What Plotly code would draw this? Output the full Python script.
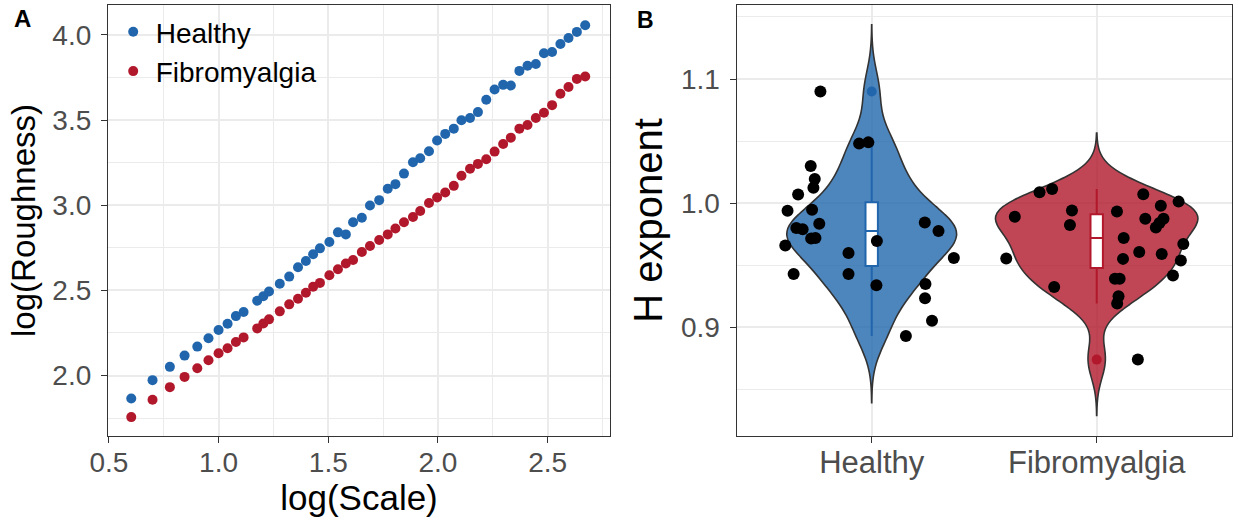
import plotly.graph_objects as go

# ---------------- Panel A data ----------------
log_scale = [0.602, 0.699, 0.778, 0.845, 0.903, 0.954, 1.000, 1.041, 1.079, 1.114,
             1.176, 1.204, 1.230, 1.279, 1.322, 1.362, 1.398, 1.431, 1.462, 1.505,
             1.544, 1.580, 1.613, 1.653, 1.690, 1.732, 1.771, 1.806, 1.845, 1.886,
             1.919, 1.959, 1.996, 2.033, 2.072, 2.107, 2.146, 2.182, 2.220, 2.258,
             2.297, 2.332, 2.371, 2.408, 2.446, 2.483, 2.520, 2.558, 2.595, 2.633, 2.671]
healthy_rough = [1.865, 1.973, 2.051, 2.117, 2.170, 2.219, 2.267, 2.304, 2.349, 2.373,
                 2.439, 2.466, 2.494, 2.539, 2.581, 2.636, 2.673, 2.712, 2.747, 2.784,
                 2.841, 2.829, 2.900, 2.927, 2.999, 3.030, 3.097, 3.124, 3.186, 3.253,
                 3.276, 3.317, 3.380, 3.419, 3.450, 3.499, 3.512, 3.547, 3.620, 3.680,
                 3.707, 3.703, 3.789, 3.819, 3.830, 3.893, 3.900, 3.947, 3.982, 4.018, 4.057]
fibro_rough = [1.756, 1.858, 1.932, 1.992, 2.043, 2.090, 2.131, 2.160, 2.197, 2.224,
               2.277, 2.306, 2.330, 2.377, 2.418, 2.451, 2.486, 2.521, 2.544, 2.589,
               2.624, 2.658, 2.679, 2.726, 2.761, 2.796, 2.829, 2.864, 2.900, 2.931,
               2.966, 3.013, 3.046, 3.075, 3.114, 3.173, 3.214, 3.243, 3.270, 3.315,
               3.360, 3.397, 3.450, 3.471, 3.512, 3.543, 3.588, 3.655, 3.694, 3.742, 3.756]

# ---------------- Panel B data ----------------
groups = ["Healthy", "Fibromyalgia"]
group_pos = [1, 2]
healthy_H = [1.090, 1.048, 1.049, 1.030, 1.0195, 1.0125, 1.007, 0.994, 0.9947, 0.980,
             0.979, 0.9835, 0.9717, 0.972, 0.966, 0.960, 0.943, 0.943, 0.9696, 0.934,
             0.9845, 0.9776, 0.956, 0.935, 0.9235, 0.9053, 0.8931]
healthy_jitter = [-0.228, -0.056, -0.015, -0.271, -0.253, -0.259, -0.327, -0.374, -0.265, -0.335,
                  -0.307, -0.233, -0.269, -0.250, -0.384, -0.103, -0.347, -0.103, 0.023, 0.021,
                  0.236, 0.297, 0.365, 0.239, 0.237, 0.268, 0.152]
fibro_H = [1.0088, 1.0115, 0.9891, 0.9555, 0.9941, 0.9824, 0.9325, 0.9933, 0.972, 0.9552,
           0.9392, 0.9392, 0.9251, 0.9192, 0.9608, 1.0072, 0.9979, 0.9875, 0.9875, 0.984,
           0.9805, 0.9592, 1.0013, 0.9672, 0.9539, 0.9419, 0.8741]
fibro_jitter = [-0.254, -0.198, -0.364, -0.402, -0.110, -0.119, -0.189, 0.090, 0.120, 0.117,
                0.081, 0.102, 0.097, 0.091, 0.189, 0.207, 0.285, 0.216, 0.297, 0.279,
                0.263, 0.289, 0.364, 0.385, 0.374, 0.339, 0.183]
bandwidths = [0.0179, 0.0150]

BLUE = "#2166AC"
RED = "#B2182B"
BLUE_FILL = "rgba(33,102,172,0.8)"
RED_FILL = "rgba(178,24,43,0.8)"
FONT = "Liberation Sans, Arial, Helvetica, sans-serif"
TICK_COLOR = "#4D4D4D"
BORDER = "#333333"
GRID = "#EBEBEB"

W, H = 1239, 523
fig = go.Figure()

# Panel A scatter
fig.add_trace(go.Scatter(x=log_scale, y=healthy_rough, mode="markers", name="Healthy",
                         marker=dict(color=BLUE, size=10), xaxis="x", yaxis="y"))
fig.add_trace(go.Scatter(x=log_scale, y=fibro_rough, mode="markers", name="Fibromyalgia",
                         marker=dict(color=RED, size=10), xaxis="x", yaxis="y"))

# Panel B violins (area-scaled together)
for vals, pos, bw, fill in [(healthy_H, 1, bandwidths[0], BLUE_FILL),
                            (fibro_H, 2, bandwidths[1], RED_FILL)]:
    fig.add_trace(go.Violin(y=vals, x0=pos, bandwidth=bw, spanmode="manual",
                            span=[min(vals) - 3 * bw, max(vals) + 3 * bw],
                            fillcolor=fill, line=dict(color=BORDER, width=1.6),
                            points=False, box_visible=False, meanline_visible=False,
                            scalegroup="v", scalemode="width",
                            showlegend=False, hoverinfo="skip", xaxis="x2", yaxis="y2"))

# Panel B boxes
for vals, pos, col in [(healthy_H, 1, BLUE), (fibro_H, 2, RED)]:
    fig.add_trace(go.Box(y=vals, x0=pos, width=0.055, quartilemethod="inclusive",
                         boxpoints="outliers", fillcolor="white",
                         line=dict(color=col, width=2), whiskerwidth=0,
                         marker=dict(color=col, size=10, line=dict(width=0)),
                         showlegend=False, xaxis="x2", yaxis="y2"))

# Panel B jittered points
for vals, jit, pos in [(healthy_H, healthy_jitter, 1), (fibro_H, fibro_jitter, 2)]:
    fig.add_trace(go.Scatter(x=[pos + j for j in jit], y=vals, mode="markers",
                             marker=dict(color="black", size=12), showlegend=False,
                             xaxis="x2", yaxis="y2"))

xA = [108 / W, 610 / W]
xB = [736.7 / W, 1231.7 / W]
yDom = [(H - 436) / H, (H - 5) / H]

def axis_style(size=28, standoff=0):
    return dict(showline=True, mirror=True, linecolor=BORDER, linewidth=1.3,
                ticks="outside", ticklen=6, tickwidth=1.3, tickcolor=BORDER,
                showgrid=True, gridcolor=GRID, gridwidth=1.5, zeroline=False,
                automargin=False, ticklabelstandoff=standoff,
                tickfont=dict(family=FONT, size=size, color=TICK_COLOR))

fig.update_layout(
    template="none",
    width=W, height=H, margin=dict(l=0, r=0, t=0, b=0, pad=0),
    paper_bgcolor="white", plot_bgcolor="white",
    font=dict(family=FONT, color="black"),
    violinmode="overlay", boxmode="overlay", violingap=0.1, violingroupgap=0,
    xaxis=dict(domain=xA, anchor="y", range=[0.496, 2.784], tick0=0.5, dtick=0.5,
               tickformat=".1f",
               minor=dict(dtick=0.25, showgrid=True, gridcolor=GRID, gridwidth=0.8),
               title=dict(text="log(Scale)", font=dict(size=35), standoff=0),
               **axis_style(28, -5)),
    yaxis=dict(domain=yDom, anchor="x", range=[1.645, 4.176], tick0=2.0, dtick=0.5,
               tickformat=".1f",
               minor=dict(dtick=0.25, showgrid=True, gridcolor=GRID, gridwidth=0.8),
               title=dict(text="log(Roughness)", font=dict(size=33), standoff=6),
               **axis_style(28, 4)),
    xaxis2=dict(domain=xB, anchor="y2", range=[0.4, 2.6], tickvals=group_pos,
                ticktext=groups, **axis_style(31, -7)),
    yaxis2=dict(domain=yDom, anchor="x2", range=[0.8126, 1.1596], tick0=0.9, dtick=0.1,
                tickformat=".1f",
                minor=dict(dtick=0.05, showgrid=True, gridcolor=GRID, gridwidth=0.8),
                title=dict(text="H exponent", font=dict(size=40), standoff=6),
                **axis_style(28, 4)),
    legend=dict(x=110.7 / W, y=1 - 7 / H, xanchor="left", yanchor="top",
                bgcolor="rgba(0,0,0,0)", font=dict(family=FONT, size=28, color="black"),
                itemwidth=35),
    annotations=[
        dict(text="<b>A</b>", x=22 / W, y=1 - 18 / H, xref="paper", yref="paper",
             xanchor="center", yanchor="middle",
             showarrow=False, font=dict(family=FONT, size=24, color="black")),
        dict(text="<b>B</b>", x=645 / W, y=1 - 19.5 / H, xref="paper", yref="paper",
             xanchor="center", yanchor="middle",
             showarrow=False, font=dict(family=FONT, size=23, color="black")),
    ],
)

fig.write_html("out.html", config={"displayModeBar": False},
               post_script="document.body.style.margin='0';document.body.style.overflow='hidden';")
